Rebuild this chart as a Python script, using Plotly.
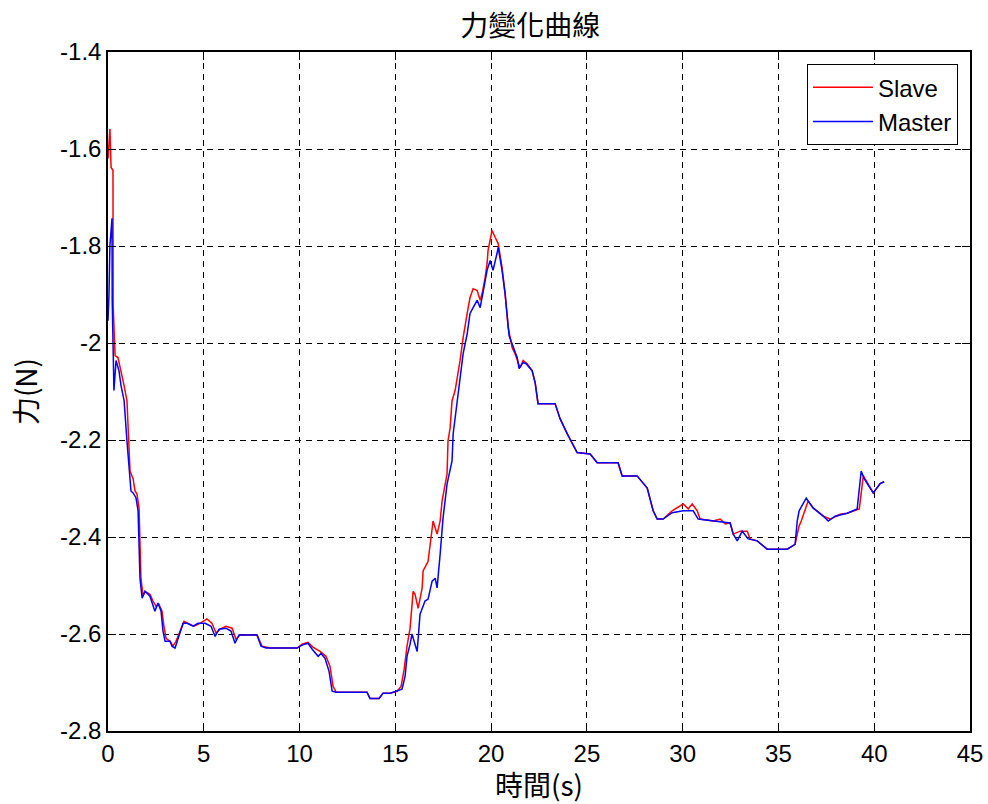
import plotly.graph_objects as go

# ---------------- data ----------------
slave_t = [0.00, 0.10, 0.16, 0.26, 0.27, 0.37, 0.52, 0.68, 0.84, 0.99, 1.15, 1.31, 1.41, 1.51, 1.62,
           1.72, 1.83, 1.93, 2.19, 2.35, 2.51, 2.66, 2.82, 2.92, 3.03, 3.24, 3.39, 3.55, 3.76, 3.97,
           4.18, 4.49, 4.80, 5.17, 5.43, 5.64, 5.85, 6.16, 6.48, 6.68, 6.89, 7.42, 7.78, 8.04, 8.46,
           9.87, 10.13, 10.44, 10.70, 11.07, 11.38, 11.59, 11.75, 11.91, 13.52, 13.68, 14.15, 14.36,
           14.73, 15.09, 15.30, 15.46, 15.61, 15.77, 15.93, 16.03, 16.19, 16.40, 16.45, 16.71, 16.92,
           16.97, 17.18, 17.34, 17.44, 17.70, 17.75, 17.86, 17.96, 18.12, 18.38, 18.54, 18.75, 18.90,
           19.06, 19.27, 19.43, 19.53, 19.69, 19.79, 19.84, 20.05, 20.21, 20.37, 20.57, 20.73, 20.89,
           21.10, 21.25, 21.51, 21.67, 21.88, 22.14, 22.30, 22.45, 23.34, 23.60, 23.97, 24.49, 25.17,
           25.54, 26.63, 26.84, 27.62, 28.15, 28.46, 28.67, 28.98, 29.45, 30.03, 30.29, 30.50, 30.76,
           30.91, 31.59, 31.96, 32.22, 32.48, 32.64, 33.00, 33.37, 33.52, 33.89, 34.41, 35.46, 35.87,
           36.08, 36.19, 36.55, 36.81, 37.34, 37.70, 38.22, 38.59, 39.22, 39.32, 39.43, 39.58, 39.95,
           40.31, 40.52]
slave_f = [-1.620, -1.559, -1.638, -1.644, -1.923, -2.026, -2.030, -2.057, -2.088, -2.119, -2.264,
           -2.280, -2.305, -2.311, -2.340, -2.485, -2.522, -2.512, -2.518, -2.532, -2.543, -2.539,
           -2.553, -2.584, -2.609, -2.615, -2.625, -2.615, -2.594, -2.574, -2.578, -2.584, -2.578,
           -2.569, -2.578, -2.598, -2.590, -2.584, -2.588, -2.611, -2.602, -2.602, -2.602, -2.625,
           -2.629, -2.629, -2.621, -2.617, -2.627, -2.636, -2.646, -2.667, -2.708, -2.720, -2.720,
           -2.733, -2.733, -2.722, -2.722, -2.718, -2.708, -2.673, -2.625, -2.588, -2.512, -2.518,
           -2.547, -2.505, -2.470, -2.450, -2.381, -2.367, -2.394, -2.367, -2.326, -2.270, -2.202,
           -2.175, -2.119, -2.098, -2.036, -1.989, -1.939, -1.906, -1.888, -1.892, -1.912, -1.898,
           -1.865, -1.836, -1.809, -1.768, -1.782, -1.795, -1.844, -1.898, -1.968, -2.010, -2.022,
           -2.051, -2.036, -2.043, -2.057, -2.082, -2.125, -2.125, -2.156, -2.187, -2.226, -2.229,
           -2.247, -2.247, -2.274, -2.274, -2.299, -2.346, -2.363, -2.363, -2.346, -2.332, -2.342,
           -2.332, -2.346, -2.363, -2.367, -2.363, -2.373, -2.371, -2.394, -2.388, -2.388, -2.404,
           -2.408, -2.425, -2.425, -2.415, -2.377, -2.367, -2.326, -2.340, -2.357, -2.363, -2.353,
           -2.351, -2.342, -2.305, -2.274, -2.284, -2.309, -2.290, -2.286]

master_t = [0.00, 0.05, 0.10, 0.21, 0.22, 0.31, 0.42, 0.57, 0.68, 0.84, 0.99, 1.10, 1.20, 1.31, 1.46,
            1.57, 1.67, 1.78, 1.93, 2.19, 2.35, 2.45, 2.61, 2.77, 2.87, 2.98, 3.24, 3.34, 3.50, 3.71,
            3.92, 4.13, 4.44, 4.70, 5.07, 5.38, 5.59, 5.80, 6.16, 6.42, 6.63, 6.84, 7.78, 7.99, 8.25,
            9.87, 10.13, 10.44, 10.65, 10.97, 11.12, 11.33, 11.54, 11.70, 11.91, 13.52, 13.68, 14.15,
            14.36, 14.73, 15.09, 15.35, 15.51, 15.61, 15.77, 15.87, 15.98, 16.14, 16.29, 16.55, 16.71,
            16.92, 17.08, 17.18, 17.34, 17.49, 17.70, 17.86, 17.96, 18.02, 18.22, 18.38, 18.54, 18.75,
            18.90, 19.06, 19.27, 19.43, 19.58, 19.79, 19.95, 20.10, 20.31, 20.37, 20.57, 20.73, 20.94,
            21.10, 21.36, 21.46, 21.57, 21.67, 21.83, 22.14, 22.30, 22.45, 23.34, 23.60, 23.97, 24.49,
            25.17, 25.54, 26.63, 26.84, 27.62, 28.15, 28.46, 28.67, 28.98, 29.45, 30.03, 30.55, 30.81,
            31.59, 32.48, 32.64, 32.85, 33.11, 33.42, 33.89, 34.41, 35.46, 35.87, 35.98, 36.08, 36.45,
            36.81, 37.34, 37.60, 37.96, 38.59, 39.11, 39.22, 39.32, 39.48, 39.95, 40.31, 40.52]
master_f = [-1.954, -1.902, -1.799, -1.743, -1.912, -2.098, -2.036, -2.057, -2.088, -2.119, -2.202,
            -2.264, -2.305, -2.309, -2.319, -2.346, -2.485, -2.526, -2.512, -2.522, -2.543, -2.553,
            -2.536, -2.553, -2.594, -2.615, -2.615, -2.625, -2.629, -2.605, -2.578, -2.578, -2.584,
            -2.578, -2.578, -2.584, -2.605, -2.590, -2.588, -2.594, -2.619, -2.602, -2.602, -2.625,
            -2.629, -2.629, -2.623, -2.619, -2.631, -2.646, -2.640, -2.650, -2.677, -2.718, -2.720,
            -2.720, -2.733, -2.733, -2.722, -2.722, -2.718, -2.714, -2.687, -2.646, -2.621, -2.600,
            -2.615, -2.636, -2.559, -2.532, -2.528, -2.491, -2.485, -2.505, -2.435, -2.361, -2.291,
            -2.264, -2.243, -2.187, -2.119, -2.071, -2.022, -1.981, -1.939, -1.927, -1.912, -1.927,
            -1.892, -1.850, -1.830, -1.850, -1.815, -1.803, -1.850, -1.898, -1.985, -2.001, -2.030,
            -2.053, -2.047, -2.040, -2.043, -2.057, -2.082, -2.125, -2.125, -2.156, -2.187, -2.226,
            -2.229, -2.247, -2.247, -2.274, -2.274, -2.299, -2.346, -2.363, -2.363, -2.350, -2.346,
            -2.346, -2.363, -2.367, -2.371, -2.394, -2.408, -2.388, -2.404, -2.408, -2.425, -2.425,
            -2.415, -2.367, -2.346, -2.320, -2.340, -2.357, -2.367, -2.357, -2.351, -2.342, -2.305,
            -2.264, -2.280, -2.309, -2.290, -2.286]

x_tick_vals = [0, 5, 10, 15, 20, 25, 30, 35, 40, 45]
x_tick_text = ["0", "5", "10", "15", "20", "25", "30", "35", "40", "45"]
y_tick_vals = [-1.4, -1.6, -1.8, -2.0, -2.2, -2.4, -2.6, -2.8]
y_tick_text = ["-1.4", "-1.6", "-1.8", "-2", "-2.2", "-2.4", "-2.6", "-2.8"]

title_text = "力變化曲線"
x_label = "時間(s)"
y_label = "力(N)"

# ---------------- figure ----------------
NUM_FONT = "Liberation Sans, Arial, sans-serif"
CJK_FONT = "Noto Sans CJK TC, Noto Sans CJK SC, sans-serif"

fig = go.Figure()
fig.add_trace(go.Scatter(x=slave_t, y=slave_f, mode="lines", name="Slave",
                         line=dict(color="#ff0000", width=1.5)))
fig.add_trace(go.Scatter(x=master_t, y=master_f, mode="lines", name="Master",
                         line=dict(color="#0000ff", width=1.5)))

axis_common = dict(
    showline=True, linecolor="black", linewidth=1.5, mirror="ticks",
    ticks="inside", ticklen=8, tickcolor="black", tickwidth=1,
    showgrid=True, gridcolor="black", gridwidth=1, griddash="6px,5px",
    zeroline=False,
    tickfont=dict(family=NUM_FONT, size=24, color="black"),
)

fig.update_layout(
    width=988, height=804,
    paper_bgcolor="white", plot_bgcolor="white",
    margin=dict(l=108, r=18, t=52, b=73, autoexpand=False),
    title=dict(text=title_text, x=0.49, xref="paper", xanchor="center",
               y=1 - 26 / 804, yref="container", yanchor="middle",
               font=dict(family=CJK_FONT, size=28, color="black")),
    xaxis=dict(range=[0, 45], tickvals=x_tick_vals, ticktext=x_tick_text,
               title=dict(text=x_label, standoff=4,
                          font=dict(family=CJK_FONT, size=28, color="black")),
               **axis_common),
    yaxis=dict(range=[-2.8, -1.4], tickvals=y_tick_vals, ticktext=y_tick_text,
               title=dict(text=y_label, standoff=14,
                          font=dict(family=CJK_FONT, size=28, color="black")),
               **axis_common),
    legend=dict(x=0.986, y=0.982, xanchor="right", yanchor="top",
                bgcolor="white", bordercolor="black", borderwidth=1,
                font=dict(family=NUM_FONT, size=24, color="black"),
                itemwidth=60, entrywidth=96, entrywidthmode="pixels",
                tracegroupgap=0),
    showlegend=True,
)

fig.write_html("out.html")
